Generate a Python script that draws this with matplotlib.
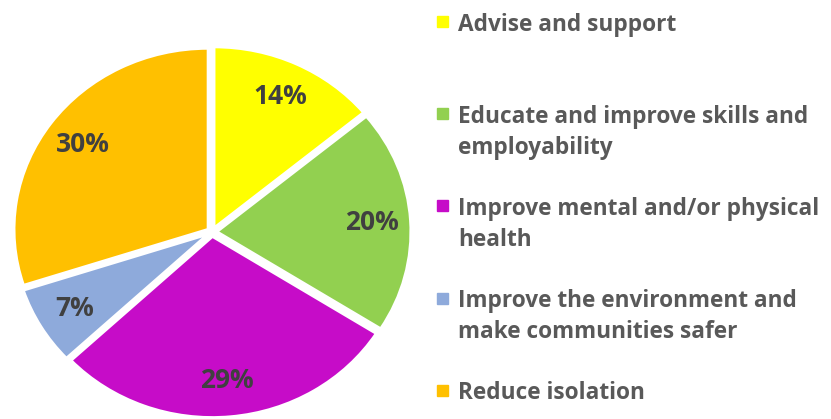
import matplotlib.pyplot as plt

labels = ["Advise and support",
          "Educate and improve skills and\nemployability",
          "Improve mental and/or physical\nhealth",
          "Improve the environment and\nmake communities safer",
          "Reduce isolation"]
values = [14, 20, 29, 7, 30]
colors = ["#FFFF00", "#92D050", "#C60CC8", "#8EAADB", "#FFC000"]

W, H = 831, 419
fig = plt.figure(figsize=(W / 100, H / 100), dpi=100)

# pie box in pixels (slightly wider than tall, like the original)
cx, cy, rx, ry = 212, 232, 194, 181
lim = 1.1
ax = fig.add_axes([(cx - lim * rx) / W, (H - cy - lim * ry) / H,
                   2 * lim * rx / W, 2 * lim * ry / H])
wedges, texts, autotexts = ax.pie(
    values, colors=colors, startangle=90, counterclock=False,
    explode=[0.025] * len(values), autopct="%1.0f%%", pctdistance=0.8,
    wedgeprops=dict(edgecolor="white", linewidth=2),
    textprops=dict(color="#404040", fontsize=19, fontweight="bold", family="Open Sans"))
ax.set_aspect("auto")
ax.set_xlim(-lim, lim)
ax.set_ylim(-lim, lim)
ax.axis("off")

# legend, evenly spaced like the office chart
for i, (lab, col) in enumerate(zip(labels, colors)):
    y = 22 + i * 92
    fig.patches.append(plt.Rectangle(((437) / W, (H - y - 5.5) / H), 11 / W, 11 / H,
                                     transform=fig.transFigure, color=col))
    fig.text(458 / W, (H - y + 9) / H, lab, ha="left", va="top",
             fontsize=16.3, fontweight="bold", family="Open Sans", color="#595959",
             linespacing=1.38)

fig.savefig("out.png", dpi=100)
